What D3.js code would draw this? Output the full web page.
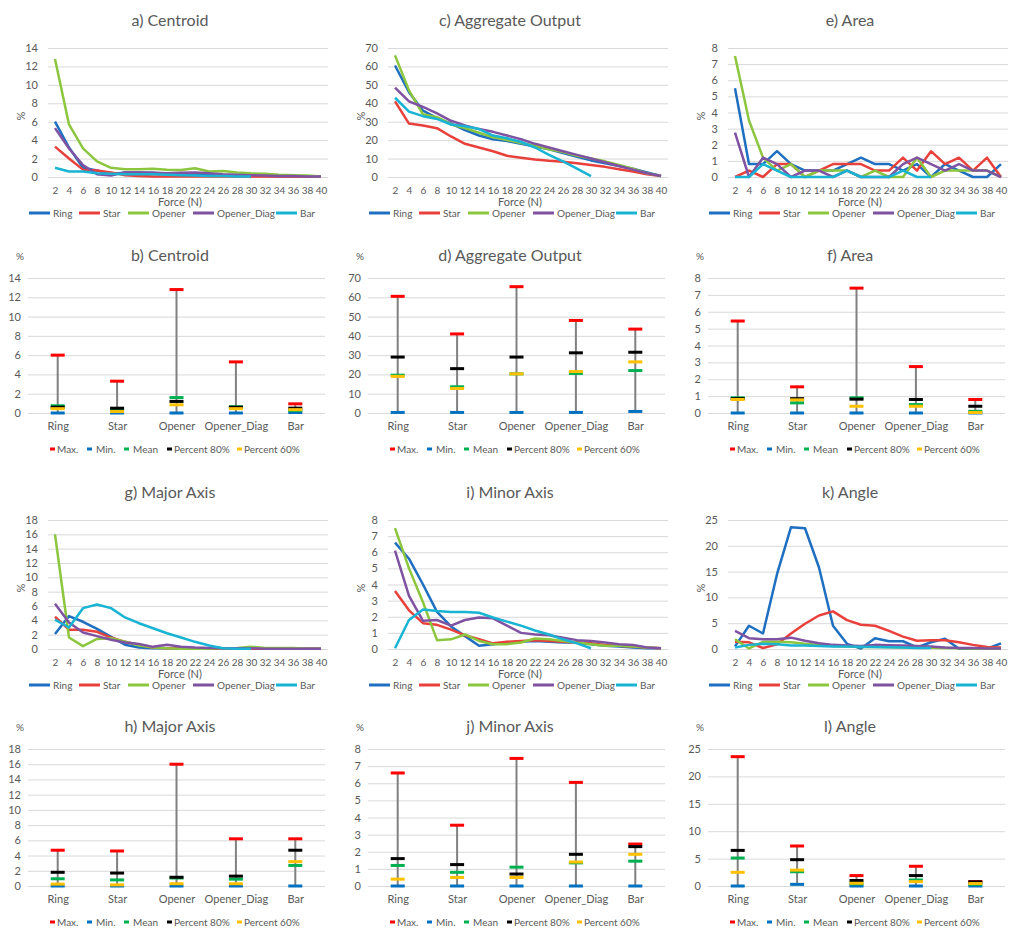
<!DOCTYPE html>
<html>
<head>
<meta charset="utf-8">
<script src="https://cdn.jsdelivr.net/npm/d3@7"></script>
<style>
body { margin: 0; background: #fff; }
text { font-family: Lato, "Open Sans", sans-serif; fill: #595959; }
</style>
</head>
<body>
<svg width="1024" height="935"></svg>
<script>
// categories
const forces = [2, 4, 6, 8, 10, 12, 14, 16, 18, 20, 22, 24, 26, 28, 30, 32, 34, 36, 38, 40];
const seriesNames = ["Ring", "Star", "Opener", "Opener_Diag", "Bar"];
const statNames = ["Max.", "Min.", "Mean", "Percent 80%", "Percent 60%"];

// line data, order = seriesNames (Bar stops at 30 N)
const centroidLines = [
  [6.0, 3.2, 1.0, 0.7, 0.3, 0.5, 0.5, 0.45, 0.35, 0.3, 0.3, 0.25, 0.2, 0.15, 0.1, 0.1, 0.05, 0.05, 0.05, 0.05],
  [3.3, 2.0, 0.8, 0.7, 0.5, 0.2, 0.1, 0.05, 0.05, 0.05, 0.05, 0.05, 0.05, 0.05, 0.05, 0.05, 0.05, 0.05, 0.05, 0.05],
  [12.8, 5.7, 3.1, 1.7, 1.0, 0.85, 0.85, 0.9, 0.8, 0.75, 0.95, 0.6, 0.65, 0.5, 0.4, 0.35, 0.25, 0.2, 0.15, 0.05],
  [5.3, 3.1, 1.3, 0.3, 0.15, 0.5, 0.5, 0.45, 0.4, 0.45, 0.5, 0.4, 0.3, 0.25, 0.2, 0.15, 0.1, 0.1, 0.05, 0.05],
  [1.0, 0.6, 0.6, 0.4, 0.35, 0.3, 0.3, 0.3, 0.25, 0.2, 0.15, 0.1, 0.1, 0.05, 0.05]
];
const outputLines = [
  [60.5, 46, 36, 32, 29, 25.5, 22.5, 20.5, 19.5, 18, 16.5, 15, 13, 11, 9, 7.5, 6, 4.5, 2.5, 0.5],
  [41, 29, 28, 26.5, 22, 18, 16, 14, 11.5, 10.5, 9.5, 8.8, 8.3, 7.5, 6.5, 5.5, 4.2, 3, 1.5, 0.5],
  [66, 47, 34, 32.5, 28.5, 26.5, 24, 21.5, 20, 18.5, 17, 15, 13.5, 11.5, 10, 8.5, 6.5, 4.5, 2, 0.5],
  [48.5, 41, 38, 34.5, 30.5, 28, 26, 24.5, 22.5, 20.5, 18, 16, 14, 12, 10, 8, 6, 4, 2, 0.5],
  [43, 35.5, 33, 31.5, 28.5, 27.5, 26, 22.5, 21, 19, 16, 12, 8.5, 4.5, 0.5]
];
const areaLines = [
  [5.5, 0.8, 0.8, 1.6, 0.8, 0.4, 0.4, 0.4, 0.8, 1.2, 0.8, 0.8, 0.4, 0.8, 0, 0.8, 0.4, 0, 0, 0.8],
  [0, 0.4, 0, 0.8, 0.8, 0, 0.4, 0.8, 0.8, 0.8, 0.4, 0.4, 1.2, 0.4, 1.6, 0.8, 1.2, 0.4, 1.2, 0],
  [7.5, 3.5, 1.2, 0.4, 0.8, 0, 0.4, 0.4, 0.4, 0, 0.4, 0, 0, 1.2, 0, 0.4, 0.4, 0.4, 0.4, 0],
  [2.75, 0, 1.2, 0.8, 0, 0.4, 0.4, 0, 0.4, 0, 0, 0, 0.8, 1.2, 0.8, 0.4, 0.8, 0.4, 0.4, 0],
  [0, 0, 0.8, 0.4, 0, 0, 0, 0, 0.4, 0, 0, 0, 0.4, 0, 0]
];
const majorLines = [
  [2.1, 4.6, 3.8, 2.8, 1.7, 0.6, 0.2, 0.1, 0.1, 0.05, 0.05, 0.05, 0.05, 0.05, 0.05, 0.05, 0.05, 0.05, 0.05, 0.05],
  [4.5, 2.7, 2.7, 2.4, 1.6, 1.0, 0.6, 0.2, 0.1, 0.1, 0.05, 0.05, 0.05, 0.05, 0.05, 0.05, 0.05, 0.05, 0.05, 0.05],
  [16, 1.6, 0.4, 1.4, 1.5, 1.0, 0.5, 0.2, 0.1, 0.05, 0.05, 0.05, 0.1, 0.15, 0.3, 0.15, 0.15, 0.15, 0.05, 0.05],
  [6.3, 3.7, 2.3, 1.8, 1.3, 0.9, 0.7, 0.3, 0.6, 0.3, 0.2, 0.15, 0.1, 0.1, 0.1, 0.05, 0.05, 0.05, 0.05, 0.05],
  [4.1, 3.0, 5.7, 6.2, 5.7, 4.4, 3.6, 2.9, 2.2, 1.6, 1.0, 0.5, 0.1, 0.05, 0.05]
];
const minorLines = [
  [6.6, 5.6, 4.0, 2.3, 1.4, 0.8, 0.2, 0.3, 0.4, 0.45, 0.5, 0.45, 0.4, 0.4, 0.3, 0.2, 0.15, 0.1, 0.05, 0.05],
  [3.6, 2.4, 1.6, 1.5, 1.2, 0.85, 0.6, 0.35, 0.45, 0.5, 0.55, 0.5, 0.45, 0.4, 0.35, 0.25, 0.2, 0.15, 0.1, 0.05],
  [7.5, 5.0, 2.9, 0.55, 0.6, 0.9, 0.5, 0.3, 0.3, 0.4, 0.65, 0.6, 0.5, 0.4, 0.3, 0.2, 0.2, 0.15, 0.1, 0.05],
  [6.1, 3.3, 1.75, 1.8, 1.45, 1.8, 1.95, 1.9, 1.45, 1.0, 0.9, 0.85, 0.7, 0.55, 0.5, 0.4, 0.3, 0.25, 0.1, 0.05],
  [0.05, 1.8, 2.45, 2.35, 2.3, 2.3, 2.25, 1.95, 1.7, 1.45, 1.15, 0.9, 0.6, 0.35, 0.05]
];
const angleLines = [
  [0.5, 4.5, 3.0, 14.5, 23.6, 23.4, 15.8, 4.5, 1.0, 0.1, 2.1, 1.5, 1.5, 0.3, 1.3, 2.0, 0.05, 0.05, 0.05, 1.1],
  [1.4, 1.3, 0.2, 0.9, 3.0, 4.9, 6.5, 7.3, 5.6, 4.7, 4.5, 3.5, 2.4, 1.6, 1.7, 1.7, 1.3, 0.8, 0.4, 0.3],
  [1.9, 0.1, 1.4, 1.4, 1.3, 1.0, 0.8, 0.6, 0.5, 0.4, 0.4, 0.35, 0.3, 0.25, 0.25, 0.2, 0.15, 0.1, 0.05, 0.05],
  [3.5, 2.1, 1.9, 1.9, 2.2, 1.6, 1.1, 0.8, 0.7, 0.6, 0.8, 0.75, 0.7, 0.6, 0.5, 0.3, 0.2, 0.2, 0.1, 0.1],
  [0.3, 0.8, 1.0, 0.9, 0.7, 0.7, 0.6, 0.5, 0.5, 0.45, 0.4, 0.35, 0.3, 0.2, 0.2]
];

// stats per shape: [max, min, mean, p80, p60]
const centroidStats = [
  [6.0, 0, 0.75, 0.6, 0.45],
  [3.3, 0, 0.35, 0.5, 0.15],
  [12.8, 0, 1.6, 1.2, 0.85],
  [5.3, 0, 0.65, 0.6, 0.45],
  [0.95, 0.05, 0.25, 0.5, 0.35]
];
const outputStats = [
  [60.5, 0.3, 19.6, 29, 19],
  [41, 0.3, 13.6, 23, 12.7],
  [65.5, 0.3, 20.3, 29, 20.3],
  [48, 0.3, 20.5, 31.2, 21.5],
  [43.5, 0.8, 22, 31.5, 26.5]
];
const areaStats = [
  [5.45, 0, 0.9, 0.85, 0.8],
  [1.55, 0, 0.6, 0.85, 0.78],
  [7.4, 0, 0.9, 0.82, 0.4],
  [2.75, 0, 0.5, 0.8, 0.4],
  [0.8, 0, 0.1, 0.4, 0.03]
];
const majorStats = [
  [4.7, 0, 0.95, 1.8, 0.25],
  [4.6, 0, 0.8, 1.7, 0.15],
  [16, 0, 1.05, 1.15, 0.3],
  [6.2, 0, 0.9, 1.3, 0.3],
  [6.2, 0, 2.7, 4.7, 3.2]
];
const minorStats = [
  [6.6, 0, 1.2, 1.6, 0.4],
  [3.55, 0, 0.8, 1.25, 0.5],
  [7.45, 0, 1.1, 0.7, 0.5],
  [6.05, 0, 1.35, 1.85, 1.4],
  [2.45, 0, 1.45, 2.3, 1.85]
];
const angleStats = [
  [23.6, 0, 5.1, 6.5, 2.5],
  [7.3, 0.3, 2.6, 4.8, 2.9],
  [1.9, 0, 0.4, 1.0, 0.5],
  [3.6, 0, 1.1, 1.9, 0.8],
  [0.8, 0, 0.3, 0.75, 0.45]
];

const lineColors = ["#1f6fc0", "#e8413c", "#8cc63e", "#7f53a1", "#19b3d3"];
const statColors = ["#ff0000", "#0070c0", "#00b050", "#000000", "#ffc000"];
const grid = "#d9d9d9";

const svg = d3.select("svg");

function yAxis(g, y, ticks, width, pad) {
  g.call(d3.axisLeft(y).tickValues(ticks).tickSize(-width).tickPadding(pad))
    .call(a => a.select(".domain").remove())
    .call(a => a.selectAll("line").attr("stroke", grid))
    .call(a => a.selectAll("text").style("font-size", "11px"));
}

function linePanel(ox, oy, title, yMax, yStep, rows) {
  const left = ox + 48, right = ox + 328, top = oy + 48, bottom = oy + 177;
  const x = d3.scalePoint().domain(forces).range([left, right]).padding(0.5);
  const y = d3.scaleLinear().domain([0, yMax]).range([bottom, top]);
  const g = svg.append("g");

  g.append("text").attr("x", ox + 170).attr("y", oy + 26)
    .attr("text-anchor", "middle").style("font-size", "16px").text(title);

  g.append("g").attr("transform", `translate(${left},0)`)
    .call(a => yAxis(a, y, d3.range(0, yMax + yStep / 2, yStep), right - left, 10));

  g.append("g").attr("transform", `translate(0,${bottom})`)
    .call(d3.axisBottom(x).tickSize(0).tickPadding(10))
    .call(a => a.select(".domain").remove())
    .call(a => a.selectAll("text").style("font-size", "10px"));

  g.append("text").attr("transform", `translate(${ox + 25},${oy + 116}) rotate(-90)`)
    .attr("text-anchor", "middle").style("font-size", "11px").text("%");
  g.append("text").attr("x", ox + 180).attr("y", oy + 206)
    .attr("text-anchor", "middle").style("font-size", "11px").text("Force (N)");

  const line = d3.line().x((d, i) => x(forces[i])).y(d => y(d));
  rows.forEach((vals, k) => {
    g.append("path").attr("d", line(vals)).attr("fill", "none")
      .attr("stroke", lineColors[k]).attr("stroke-width", 2.5)
      .attr("stroke-linejoin", "round");
  });

  const legX = [29, 79, 128, 193, 276];
  seriesNames.forEach((n, k) => {
    g.append("line").attr("x1", ox + legX[k]).attr("x2", ox + legX[k] + 21)
      .attr("y1", oy + 213).attr("y2", oy + 213)
      .attr("stroke", lineColors[k]).attr("stroke-width", 3);
    g.append("text").attr("x", ox + legX[k] + 24).attr("y", oy + 216.5)
      .style("font-size", "10px").text(n);
  });
}

function statPanel(ox, oy, top, bottom, title, yMax, yStep, stats) {
  const left = ox + 28, right = ox + 325;
  const x = d3.scalePoint().domain(seriesNames).range([left, right]).padding(0.5);
  const y = d3.scaleLinear().domain([0, yMax]).range([bottom, top]);
  const g = svg.append("g");

  g.append("text").attr("x", ox + 170).attr("y", oy + 26)
    .attr("text-anchor", "middle").style("font-size", "16px").text(title);
  g.append("text").attr("x", ox + 20).attr("y", oy + 25)
    .attr("text-anchor", "middle").style("font-size", "10px").text("%");

  g.append("g").attr("transform", `translate(${left},0)`)
    .call(a => yAxis(a, y, d3.range(0, yMax + yStep / 2, yStep), right - left, 7));

  g.append("g").attr("transform", `translate(0,${bottom})`)
    .call(d3.axisBottom(x).tickSize(0).tickPadding(9))
    .call(a => a.select(".domain").remove())
    .call(a => a.selectAll("text").style("font-size", "11px"));

  stats.forEach((s, i) => {
    const cx = x(seriesNames[i]);
    g.append("line").attr("x1", cx).attr("x2", cx)
      .attr("y1", y(s[1])).attr("y2", y(s[0]))
      .attr("stroke", "#808080").attr("stroke-width", 2);
    s.forEach((v, k) => {
      g.append("line").attr("x1", cx - 7).attr("x2", cx + 7)
        .attr("y1", y(v)).attr("y2", y(v))
        .attr("stroke", statColors[k]).attr("stroke-width", 3);
    });
  });

  const dashX = [50, 87, 124, 167, 237];
  const textX = [57, 96, 133, 174, 244];
  const ly = bottom + 36;
  statNames.forEach((n, k) => {
    g.append("line").attr("x1", ox + dashX[k]).attr("x2", ox + dashX[k] + 5)
      .attr("y1", ly).attr("y2", ly)
      .attr("stroke", statColors[k]).attr("stroke-width", 3);
    g.append("text").attr("x", ox + textX[k]).attr("y", ly + 3.5)
      .style("font-size", "10px").text(n);
  });
}

linePanel(0, 0, "a) Centroid", 14, 2, centroidLines);
linePanel(340, 0, "c) Aggregate Output", 70, 10, outputLines);
linePanel(680, 0, "e) Area", 8, 1, areaLines);

statPanel(0, 235, 278, 413, "b) Centroid", 14, 2, centroidStats);
statPanel(340, 235, 278, 413, "d) Aggregate Output", 70, 10, outputStats);
statPanel(680, 235, 278, 413, "f) Area", 8, 1, areaStats);

linePanel(0, 472, "g) Major Axis", 18, 2, majorLines);
linePanel(340, 472, "i) Minor Axis", 8, 1, minorLines);
linePanel(680, 472, "k) Angle", 25, 5, angleLines);

statPanel(0, 706, 749, 886, "h) Major Axis", 18, 2, majorStats);
statPanel(340, 706, 749, 886, "j) Minor Axis", 8, 1, minorStats);
statPanel(680, 706, 749, 886, "l) Angle", 25, 5, angleStats);
</script>
</body>
</html>
